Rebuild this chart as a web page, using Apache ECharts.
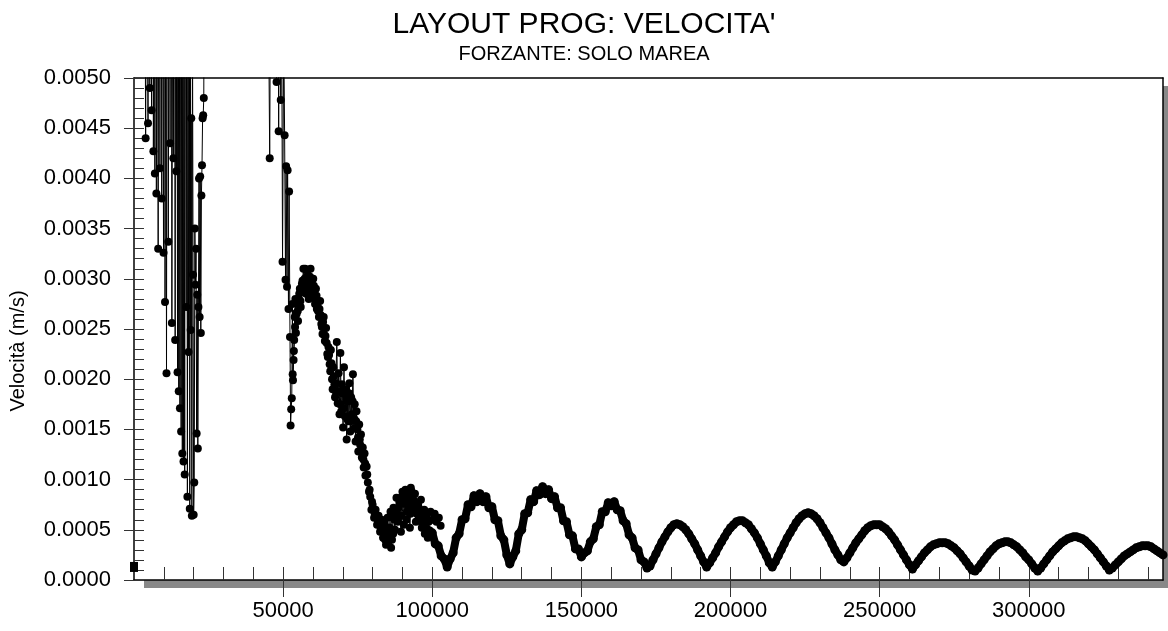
<!DOCTYPE html>
<html>
<head>
<meta charset="utf-8">
<script src="https://cdn.jsdelivr.net/npm/echarts@6/dist/echarts.min.js"></script>
<style>html,body{margin:0;padding:0;background:#fff}#c{width:1168px;height:631px}</style>
</head>
<body>
<div id="c"></div>
<script>
// ---- data (time in s, velocity in m/s) ----
const startTime = [0];
const startVel = [0.00013];

const spinupTime = [3400,3900,4300,4700,5000,5300,5600,5900,6200,6500,6800,7000,7300,7500,7800,8100,8400,8700,9000,9300,9600,9900,10200,10400,10700,10900,11200,11500,11800,12100,12400,12700,13000,13200,13500,13800,14000,14200,14400,14600,14800,15000,15200,15400,15600,15800,16000,16200,16400,16600,16800,17000,17200,17500,17700,17900,18100,18300,18500,18700,18900,19000,19200,19400,19600,19800,20000,20200,20400,20600,20800,21000,21200,21400,21600,21800,22000,22200,22400,22600,22800,23000,23200,23400,23600,25000,30000,35000,40000,44500];
const spinupVel = [0.0085,0.0044,0.0072,0.00455,0.0095,0.0049,0.0078,0.00468,0.0088,0.00427,0.0066,0.00405,0.0092,0.00385,0.0070,0.0033,0.0081,0.0041,0.0098,0.0038,0.0074,0.00326,0.0089,0.00277,0.0067,0.00206,0.0095,0.00337,0.0079,0.00435,0.0102,0.00256,0.0071,0.0042,0.0093,0.00239,0.0085,0.00407,0.0076,0.00207,0.0098,0.00188,0.0064,0.00171,0.0088,0.00148,0.0072,0.00126,0.0091,0.00118,0.0058,0.00105,0.0083,0.00272,0.0069,0.00083,0.0052,0.00227,0.0094,0.00071,0.0061,0.00249,0.0046,0.00064,0.0057,0.00304,0.00065,0.00097,0.0035,0.00294,0.0033,0.00146,0.00284,0.00131,0.00272,0.0040,0.00262,0.00402,0.00246,0.00383,0.00413,0.0046,0.00463,0.0048,0.0075,0.009,0.012,0.011,0.010,0.008];

const transientTime = [45500,46200,47800,48200,48500,48800,49200,49500,49800,50200,50500,50800,51000,51300,51500,51800,52000,52300,52500,52700,52900,53100,53300,53500,53700,53900,54100,54300,54500,54800,55000,55300,55600,55900,56200,56500,56800,57100,57400,57700,58000,58300,58600,58900,59200,59500,59800,60100,60400,60700,61000,61300,61600,62000,62400,62800,63200,63600,64000,64400,64800,65200,65600,66000,66400,66800,67200,67600,68000,68300,68600,68900,69200,69500,69800,70100,70400,70700,71000,71300,71600,71900,72200,72500,72800,73100,73400,73700,74000,74300,74600,74900,75200,75500,75800,76100,76400,76700,77000,77300,77600,78000,78400,78800,79200,79600,80000,80500,81000,81500,82000,82500,83000,83500,84000,84500,85000,85500,86000,86500,87000,87500,88000,88500,89000,89500,90000,90500,91000,91500,92000,92500,93000,93500,94000,94500,95000,95500,96000,96500,97000,97500,98000,98500,99000];
const transientVel = [0.0042,0.0090,0.00496,0.0072,0.00447,0.0065,0.00478,0.0058,0.00317,0.0055,0.00443,0.00299,0.00412,0.00292,0.00408,0.0027,0.00387,0.00242,0.00154,0.0017,0.00181,0.00275,0.00199,0.00219,0.00239,0.00262,0.0028,0.00246,0.00265,0.00275,0.00258,0.0028,0.0029,0.00272,0.0029,0.00298,0.0031,0.0029,0.0031,0.00285,0.00302,0.0030,0.0028,0.00295,0.0031,0.0029,0.00282,0.0030,0.00285,0.00275,0.0029,0.0027,0.00272,0.00262,0.00278,0.00255,0.00245,0.00262,0.00238,0.00251,0.00225,0.00232,0.00215,0.00229,0.0020,0.00212,0.00195,0.00188,0.00237,0.00176,0.00206,0.00165,0.00226,0.00168,0.00186,0.00152,0.00212,0.00163,0.00185,0.0014,0.00178,0.00158,0.00196,0.00148,0.00182,0.00165,0.00205,0.00151,0.00175,0.00138,0.00168,0.0015,0.00128,0.00155,0.00135,0.00145,0.00122,0.00132,0.00112,0.00126,0.00104,0.00113,0.00097,0.00088,0.00083,0.0007,0.00075,0.00062,0.0007,0.00055,0.00064,0.00048,0.0006,0.00042,0.00056,0.00035,0.00062,0.00045,0.00068,0.0004,0.00072,0.0005,0.00082,0.00058,0.00078,0.00048,0.00088,0.00055,0.0009,0.00068,0.00085,0.00052,0.00089,0.00072,0.00078,0.00058,0.0007,0.00062,0.00065,0.00052,0.00058,0.00046,0.00052,0.00042,0.00049];

// extra samples inside the dense transient cluster
const clusterTime = [53200,53600,54000,54400,54900,55400,55800,56300,56700,57200,57600,58100,58500,59000,59400,59900,60300,60800,61200,61700,62200,62600,63000,63400,63800,64200,64600,65000,65400,65800,66200,66600,67000,67400,67800,68500,69100,69700,70300,70900,71500,72100,72700,73300,73900,74500,75100,75700,76300,76900,77500,78200,79000,79800,80700,81700,82700,83700,84700,85700,86700,87700,88700,89700,90700,91700,92700,93700,94700,95700,96700,97700,98700];
const clusterVel = [0.00205,0.00228,0.00252,0.00266,0.00268,0.00285,0.00278,0.00295,0.00287,0.00300,0.00292,0.00308,0.00288,0.00302,0.00297,0.00289,0.00293,0.00280,0.00283,0.00268,0.00270,0.00264,0.00252,0.00257,0.00244,0.00243,0.00236,0.00222,0.00224,0.00208,0.00216,0.00190,0.00203,0.00182,0.00196,0.00188,0.00175,0.00195,0.00171,0.00190,0.00160,0.00186,0.00158,0.00178,0.00160,0.00158,0.00142,0.00140,0.00131,0.00120,0.00116,0.00105,0.00090,0.00078,0.00066,0.00060,0.00052,0.00050,0.00046,0.00052,0.00062,0.00066,0.00072,0.00064,0.00080,0.00075,0.00066,0.00080,0.00068,0.00060,0.00056,0.00050,0.00044];

// further samples of the noisy patch before the tidal regime
const noiseTime = [82200,83100,84200,85200,86200,86900,87400,88200,88900,89400,90200,90800,91300,92200,92800,93300,94200,94800,95300,96200,96800,97300,98200,98800,99400,100200,100800,101400,102200,102800];
const noiseVel = [0.00058,0.00050,0.00040,0.00036,0.00032,0.00046,0.00060,0.00070,0.00064,0.00082,0.00076,0.00086,0.00060,0.00078,0.00092,0.00070,0.00086,0.00066,0.00074,0.00080,0.00062,0.00070,0.00064,0.00058,0.00068,0.00060,0.00066,0.00058,0.00062,0.00054];

// tidal regime: one output every 1000 s from 100000 s
const tidalT0 = 100000;
const tidalDt = 1000;
const tidalVel = [
0.00047,0.00036,0.00034,0.00024,0.00021,0.00013,0.00021,0.00027,0.00042,0.00046,
0.00060,0.00061,0.00075,0.00073,0.00084,0.00078,0.00086,0.00078,0.00083,0.00072,
0.00073,0.00060,0.00059,0.00044,0.00040,0.00025,0.00016,0.00023,0.00029,0.00046,
0.00050,0.00066,0.00067,0.00080,0.00078,0.00089,0.00085,0.00093,0.00086,0.00090,
0.00081,0.00083,0.00072,0.00072,0.00059,0.00058,0.00045,0.00044,0.00031,0.00031,
0.00023,0.00027,0.00029,0.00038,0.00041,0.00053,0.00055,0.00068,0.00068,0.00077,
0.00074,0.00078,0.00070,0.00069,0.00059,0.00056,0.00045,0.00042,0.00032,0.00030,
0.00020,0.00018,0.00012,0.00014,0.00020,0.00026,0.00032,0.00038,0.00043,0.00048,
0.00052,0.00055,0.00056,0.00055,0.00053,0.00050,0.00046,0.00041,0.00036,0.00030,
0.00024,0.00018,0.00013,0.00017,0.00022,0.00027,0.00033,0.00038,0.00043,0.00048,
0.00052,0.00055,0.00058,0.00059,0.00059,0.00057,0.00055,0.00051,0.00047,0.00042,
0.00036,0.00030,0.00024,0.00017,0.00013,0.00018,0.00024,0.00030,0.00036,0.00042,
0.00047,0.00052,0.00057,0.00061,0.00064,0.00066,0.00067,0.00066,0.00064,0.00061,
0.00057,0.00052,0.00047,0.00042,0.00036,0.00030,0.00025,0.00020,0.00018,0.00022,
0.00027,0.00032,0.00037,0.00041,0.00045,0.00049,0.00052,0.00054,0.00055,0.00055,
0.00055,0.00053,0.00051,0.00048,0.00044,0.00040,0.00035,0.00030,0.00025,0.00020,
0.00015,0.00011,0.00015,0.00019,0.00023,0.00027,0.00030,0.00033,0.00035,0.00036,
0.00037,0.00037,0.00037,0.00036,0.00034,0.00032,0.00029,0.00026,0.00022,0.00018,
0.00014,0.00010,0.00009,0.00012,0.00016,0.00020,0.00024,0.00028,0.00031,0.00034,
0.00036,0.00037,0.00038,0.00038,0.00037,0.00035,0.00033,0.00030,0.00027,0.00023,
0.00020,0.00016,0.00012,0.00009,0.00012,0.00016,0.00020,0.00024,0.00028,0.00031,
0.00034,0.00037,0.00039,0.00041,0.00042,0.00043,0.00043,0.00042,0.00041,0.00039,
0.00036,0.00033,0.00030,0.00026,0.00022,0.00018,0.00014,0.00010,0.00012,0.00015,
0.00018,0.00021,0.00024,0.00026,0.00028,0.00030,0.00032,0.00033,0.00034,0.00034,
0.00034,0.00033,0.00031,0.00029,0.00027,0.00025
];

// axis ticks
const xMin = 0, xMax = 345000, xInterval = 50000, xMinorStep = 10000;
const xLabelValues = [50000, 100000, 150000, 200000, 250000, 300000];
const yMin = 0, yMax = 0.005, yInterval = 0.0005;
const titleText = "LAYOUT PROG: VELOCITA'";
const subtitleText = "FORZANTE: SOLO MAREA";
const yName = "Velocità (m/s)";

// ---- build ----
const pairs = (t, v) => t.map((x, i) => [x, v[i]]);
const mainData = pairs(spinupTime, spinupVel).concat(pairs(transientTime, transientVel));
const tidalData = [[transientTime[transientTime.length - 1], transientVel[transientVel.length - 1]]]
  .concat(tidalVel.map((v, i) => [tidalT0 + i * tidalDt, v]));
const xInnerTicks = [];
for (let v = xMinorStep; v < xMax; v += xMinorStep) xInnerTicks.push(v);

const FONT = '"Liberation Sans", Arial, sans-serif';
const chart = echarts.init(document.getElementById('c'), null, {renderer: 'canvas'});
const baseX = {type: 'value', min: xMin, max: xMax, interval: xInterval, splitLine: {show: false}};
const baseY = {type: 'value', min: yMin, max: yMax, interval: yInterval, splitLine: {show: false}};
const tickStyle = {color: '#333', width: 1};
const thinSeries = (data) => ({
  type: 'line', data: data,
  clip: true, showAllSymbol: true, symbol: 'circle', symbolSize: 8,
  lineStyle: {color: '#000', width: 1}, itemStyle: {color: '#000'}, z: 3
});
chart.setOption({
  animation: false,
  backgroundColor: '#fff',
  title: {
    text: titleText, subtext: subtitleText, left: 'center', top: 5, itemGap: 4,
    textStyle: {fontFamily: FONT, fontSize: 30, fontWeight: 'normal', color: '#000'},
    subtextStyle: {fontFamily: FONT, fontSize: 20, color: '#000'}
  },
  grid: {
    left: 133, right: 5, top: 78, bottom: 51, show: true,
    backgroundColor: '#fff', borderWidth: 0,
    shadowColor: '#888', shadowOffsetX: 10, shadowOffsetY: 8, shadowBlur: 0
  },
  xAxis: [
    Object.assign({}, baseX, {
      position: 'bottom',
      axisLine: {show: true, onZero: false, lineStyle: {color: '#000', width: 1.5}},
      axisTick: {show: true, inside: true, length: 13, lineStyle: tickStyle, customValues: xInnerTicks},
      axisLabel: {
        margin: 20, color: '#000', fontFamily: FONT, fontSize: 22,
        customValues: xLabelValues,
        formatter: v => String(v)
      }
    }),
    Object.assign({}, baseX, {
      position: 'bottom',
      axisLine: {show: false, onZero: false},
      axisTick: {show: true, inside: false, length: 17, lineStyle: tickStyle, customValues: xLabelValues},
      axisLabel: {show: false}
    }),
    Object.assign({}, baseX, {
      position: 'top',
      axisLine: {show: true, onZero: false, lineStyle: {color: '#000', width: 1.5}},
      axisTick: {show: false}, axisLabel: {show: false}
    })
  ],
  yAxis: [
    Object.assign({}, baseY, {
      position: 'left',
      axisLine: {show: true, onZero: false, lineStyle: {color: '#000', width: 1.5}},
      axisTick: {show: true, inside: true, length: 10, lineStyle: tickStyle},
      minorTick: {show: true, splitNumber: 5, length: 10, lineStyle: tickStyle},
      axisLabel: {
        margin: 23, color: '#000', fontFamily: FONT, fontSize: 22,
        formatter: v => v.toFixed(4)
      },
      name: yName, nameLocation: 'middle', nameGap: 106,
      nameTextStyle: {fontFamily: FONT, fontSize: 20, color: '#000', padding: [0, 44, 0, 0]}
    }),
    Object.assign({}, baseY, {
      position: 'left',
      axisLine: {show: false, onZero: false},
      axisTick: {show: true, inside: false, length: 10, lineStyle: tickStyle},
      axisLabel: {show: false}
    }),
    Object.assign({}, baseY, {
      position: 'right',
      axisLine: {show: true, onZero: false, lineStyle: {color: '#000', width: 1.5}},
      axisTick: {show: false}, axisLabel: {show: false}
    })
  ],
  series: [
    thinSeries(mainData),
    thinSeries(pairs(clusterTime, clusterVel)),
    thinSeries(pairs(noiseTime, noiseVel)),
    {
      type: 'line', data: tidalData,
      clip: true, showAllSymbol: true, symbol: 'circle', symbolSize: 9,
      lineStyle: {color: '#000', width: 8, cap: 'round', join: 'round'}, itemStyle: {color: '#000'}, z: 3
    },
    {
      type: 'line', data: pairs(startTime, startVel),
      clip: false, symbol: 'rect', symbolSize: [8, 10],
      itemStyle: {color: '#000'}, z: 4
    }
  ]
});
</script>
</body>
</html>
